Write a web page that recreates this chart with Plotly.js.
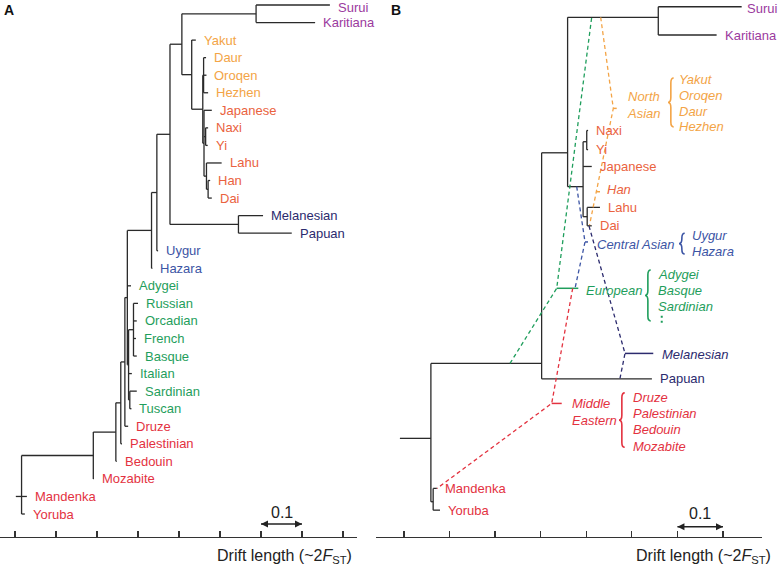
<!DOCTYPE html>
<html><head><meta charset="utf-8">
<script src="https://cdn.plot.ly/plotly-3.0.1.min.js"></script>
<style>html,body{margin:0;padding:0;background:#fff}#chart{width:778px;height:568px}</style>
</head><body><div id="chart"></div>
<script>
// ---------------- Panel A : population tree ----------------
const leavesA = ["Surui","Karitiana","Yakut","Daur","Oroqen","Hezhen","Japanese","Naxi","Yi","Lahu","Han","Dai","Melanesian","Papuan","Uygur","Hazara","Adygei","Russian","Orcadian","French","Basque","Italian","Sardinian","Tuscan","Druze","Palestinian","Bedouin","Mozabite","Mandenka","Yoruba"];
const leafRowA = [0,1,2,3,4,5,6,7,8,9,10,11,12,13,14,15,16,17,18,19,20,21,22,23,24,25,26,27,28,29];
const leafDriftA = [0.768,0.732,0.441,0.466,0.467,0.471,0.480,0.471,0.470,0.504,0.476,0.480,0.605,0.675,0.349,0.335,0.283,0.300,0.297,0.295,0.297,0.285,0.297,0.284,0.276,0.261,0.248,0.192,0.029,0.024];
const leafGroupA = ["amer","amer","nasia","nasia","nasia","nasia","easia","easia","easia","easia","easia","easia","oce","oce","casia","casia","eur","eur","eur","eur","eur","eur","eur","eur","mide","mide","mide","mide","afr","afr"];
const nodesA = ["HD","LHD","NY","M2","M1","N","O","P","R","Q","S","T","U","E1","E2","E","V","W","Z","Y","X","root"];
const nodeDriftA = [0.471,0.467,0.465,0.461,0.460,0.458,0.431,0.588,0.407,0.545,0.378,0.346,0.333,0.289,0.280,0.277,0.274,0.268,0.258,0.246,0.191,0.016];
const nodeChildrenA = [["Han","Dai"],["Lahu","HD"],["Naxi","Yi"],["Japanese","NY","LHD"],["Daur","Oroqen","Hezhen"],["M1","M2"],["Yakut","N"],["Surui","Karitiana"],["P","O"],["Melanesian","Papuan"],["R","Q"],["S","Uygur"],["T","Hazara"],["Russian","Orcadian","French","Basque"],["Sardinian","Tuscan"],["E1","Italian","E2"],["U","Adygei","E"],["V","Druze"],["W","Palestinian"],["Z","Bedouin"],["Y","Mozabite"],["X","Mandenka","Yoruba"]];
const rootStemA = [0.002, 0.016];
const rootStemRowA = 28;

// ---------------- Panel B : tree with admixture ----------------
const leavesB = ["Surui","Karitiana","Naxi","Yi","Japanese","Lahu","Dai","Papuan","Mandenka","Yoruba"];
const leafRowB = [0.10,1.71,7.15,8.24,9.20,11.53,12.58,21.30,27.54,28.78];
const leafDriftB = [0.741,0.686,0.404,0.404,0.412,0.430,0.412,0.544,0.072,0.079];
const leafGroupB = ["amer","amer","easia","easia","easia","easia","easia","oce","afr","afr"];
const nodesB = ["NY","LD","EA","SK","TC","MC","AF","root"];
const nodeDriftB = [0.401,0.402,0.393,0.558,0.359,0.302,0.064,0.059];
const nodeRowB = [7.79,12.06,10.35,0.70,8.42,20.42,28.30,24.69];
const nodeChildrenB = [["Naxi","Yi"],["Lahu","Dai"],["NY","Japanese","LD"],["Surui","Karitiana"],["SK","EA"],["TC","Papuan"],["Mandenka","Yoruba"],["MC","AF"]];
const rootStemB = [-0.009, 0.059];

// admixed groups: dashed edges (source -> node -> second source)
const mixGroups = ["nasia","casia","eur","mide","oce"];
const mixDrift = [[0.4316,0.4593,0.4071],[0.3790,0.3972,0.3753],[0.2326,0.3351,0.4119],[0.3702,0.3241,0.0724],[0.406,0.485,0.474]];
const mixRow = [[0.70,5.89,12.54],[10.35,13.50,16.14],[20.42,16.14,0.70],[16.14,22.70,27.54],[12.59,19.85,21.27]];
const mixTipDrift = [0.4668,0.4038,0.3825,0.3461,0.547];
const mixLabels = ["North<br>Asian","Central Asian","European","Middle<br>Eastern","Melanesian"];
const mixLabelDrift = [0.485,0.4191,0.395,0.3643,0.5618];
const mixLabelRow = [5.68,13.62,16.24,23.20,19.89];
// Han (admixed East Asian)
const hanDrift = [0.4226,0.4301];
const hanRow = 10.64;
const hanLabelDrift = 0.441, hanLabelRow = 10.50;

// braces with member lists
const braceGroups = ["nasia","casia","eur","mide"];
const braceTipDrift = [0.5793,0.6035,0.5289,0.4718];
const braceRows = [[4.16,6.95],[13.0,14.19],[15.1,18.0],[22.1,25.2]];
const braceMembers = [["Yakut","Oroqen","Daur","Hezhen"],["Uygur","Hazara"],["Adygei","Basque","Sardinian"],["Druze","Palestinian","Bedouin","Mozabite"]];
const braceMemberRows = [[4.22,5.17,6.04,6.93],[13.15,14.06],[15.33,16.28,17.19],[22.35,23.27,24.18,25.13]];
const braceLabelDrift = [0.5985,0.6276,0.553,0.4975];
const euroDotsDrift = 0.5656, euroDotsRows = [17.7,18.25];

const tickValsA = [0,0.1,0.2,0.3,0.4,0.5,0.6,0.7,0.8];
const tickValsB = [0,0.1,0.2,0.3,0.4,0.5,0.6,0.7];
const scaleBar = [0.6,0.7];

const groupColor = {amer:'#9b3a9e', nasia:'#f3a446', easia:'#ea6240', oce:'#2c2b6e', casia:'#3c55a5', eur:'#1f9e5c', mide:'#e3323f', afr:'#e3323f'};
const FONT = 'Liberation Sans, Arial, Helvetica, sans-serif';
const LINE = '#2a2a2a';

function treeSegments(leaves, leafX, leafY, nodes, nodeX, kids, nodeY) {
  const pos = {};
  leaves.forEach((n,i)=>pos[n]={x:leafX[i], y:leafY[i]});
  nodes.forEach((n,i)=>{
    const ys = kids[i].map(c=>pos[c].y);
    const y = (nodeY && nodeY[i]!=null) ? nodeY[i] : (Math.min(...ys)+Math.max(...ys))/2;
    pos[n] = {x:nodeX[i], y:y};
  });
  const xs=[], ys=[];
  nodes.forEach((n,i)=>{
    const p = pos[n];
    const kys = kids[i].map(c=>pos[c].y);
    xs.push(p.x,p.x,null); ys.push(Math.min(...kys,p.y),Math.max(...kys,p.y),null);
    kids[i].forEach(c=>{ xs.push(p.x,pos[c].x,null); ys.push(pos[c].y,pos[c].y,null); });
  });
  return {xs, ys, pos};
}

const tA = treeSegments(leavesA, leafDriftA, leafRowA, nodesA, nodeDriftA, nodeChildrenA, null);
const tB = treeSegments(leavesB, leafDriftB, leafRowB, nodesB, nodeDriftB, nodeChildrenB, nodeRowB);

const traces = [];
traces.push({x:tA.xs.concat([rootStemA[0],rootStemA[1]]), y:tA.ys.concat([rootStemRowA,rootStemRowA]), xaxis:'x', yaxis:'y', mode:'lines', line:{color:LINE,width:1.3}, hoverinfo:'skip', showlegend:false});
traces.push({x:tB.xs.concat([rootStemB[0],rootStemB[1]]), y:tB.ys.concat([tB.pos.root.y,tB.pos.root.y]), xaxis:'x2', yaxis:'y2', mode:'lines', line:{color:LINE,width:1.3}, hoverinfo:'skip', showlegend:false});

mixGroups.forEach((g,i)=>{
  traces.push({x:mixDrift[i], y:mixRow[i], xaxis:'x2', yaxis:'y2', mode:'lines', line:{color:groupColor[g], width:1.3, dash:'4px,3px'}, hoverinfo:'skip', showlegend:false});
  traces.push({x:[mixDrift[i][1], mixTipDrift[i]], y:[mixRow[i][1], mixRow[i][1]], xaxis:'x2', yaxis:'y2', mode:'lines', line:{color:groupColor[g], width:1.5}, hoverinfo:'skip', showlegend:false});
});
traces.push({x:hanDrift, y:[hanRow,hanRow], xaxis:'x2', yaxis:'y2', mode:'lines', line:{color:groupColor.nasia,width:1.5}, hoverinfo:'skip', showlegend:false});
traces.push({x:[euroDotsDrift,euroDotsDrift], y:euroDotsRows, xaxis:'x2', yaxis:'y2', mode:'lines', line:{color:groupColor.eur,width:2,dash:'2px,3px'}, hoverinfo:'skip', showlegend:false});

// scale bars (double-headed arrows)
[['x','y',29.57],['x2','y2',29.73]].forEach(([xr,yr,row])=>{
  traces.push({x:scaleBar, y:[row,row], xaxis:xr, yaxis:yr, mode:'lines+markers', line:{color:'#222',width:1.4}, marker:{symbol:['arrow-left','arrow-right'], size:7, color:'#222', line:{width:0}}, hoverinfo:'skip', showlegend:false, cliponaxis:false});
});

const ann = [];
function lab(text, x, y, xr, yr, color, opts) {
  ann.push(Object.assign({text:text, x:x, y:y, xref:xr, yref:yr, showarrow:false, xanchor:'left', yanchor:'middle', align:'left', font:{family:FONT,size:13,color:color}}, opts||{}));
}
leavesA.forEach((n,i)=>lab(n, leafDriftA[i], leafRowA[i], 'x','y', groupColor[leafGroupA[i]], {xshift:6, yshift: leafRowA[i]<0.5 ? -2 : 0}));
leavesB.forEach((n,i)=>lab(n, leafDriftB[i], leafRowB[i], 'x2','y2', groupColor[leafGroupB[i]], {xshift: leafRowB[i]<0.5 ? 3 : 6, yshift: leafRowB[i]<0.5 ? -2 : 0}));
mixGroups.forEach((g,i)=>lab('<i>'+mixLabels[i]+'</i>', mixLabelDrift[i], mixLabelRow[i], 'x2','y2', groupColor[g]));
lab('<i>Han</i>', hanLabelDrift, hanLabelRow, 'x2','y2', groupColor.easia);
braceGroups.forEach((g,i)=>{
  braceMembers[i].forEach((m,j)=>lab('<i>'+m+'</i>', braceLabelDrift[i], braceMemberRows[i][j], 'x2','y2', groupColor[g]));
});

// panel letters
ann.push({text:'<b>A</b>', x:2/778, y:1, xref:'paper', yref:'paper', xanchor:'left', yanchor:'top', showarrow:false, font:{family:FONT,size:14,color:'#111'}});
ann.push({text:'<b>B</b>', x:389/778, y:1, xref:'paper', yref:'paper', xanchor:'left', yanchor:'top', showarrow:false, font:{family:FONT,size:14,color:'#111'}});
// axis titles and scale-bar labels
[0.3658,0.9045].forEach(px=>{
  ann.push({text:'Drift length (~2<i>F</i><sub>ST</sub>)', x:px, y:0.021, xref:'paper', yref:'paper', xanchor:'center', yanchor:'middle', showarrow:false, font:{family:FONT,size:16,color:'#222'}});
});
[['x','y',28.9],['x2','y2',28.95]].forEach(([xr,yr,trow])=>{
  ann.push({text:'0.1', x:(scaleBar[0]+scaleBar[1])/2, y:trow, xref:xr, yref:yr, xanchor:'center', yanchor:'middle', showarrow:false, font:{family:FONT,size:16,color:'#222'}});
});

function bracePath(xTip, y0, y1, w, h) {
  const ym=(y0+y1)/2, xm=xTip+w*0.5, xe=xTip+w;
  return `M${xe},${y0} Q${xm},${y0} ${xm},${y0+h} L${xm},${ym-h} Q${xm},${ym} ${xTip},${ym} Q${xm},${ym} ${xm},${ym+h} L${xm},${y1-h} Q${xm},${y1} ${xe},${y1}`;
}
const shapes = braceGroups.map((g,i)=>({type:'path', xref:'x2', yref:'y2', path:bracePath(braceTipDrift[i], braceRows[i][0], braceRows[i][1], 0.0125, 0.28), line:{color:groupColor[g], width:1.6}}));

const axBase = {showline:true, linecolor:'#333', linewidth:1.3, ticks:'inside', ticklen:6, tickwidth:1.3, tickcolor:'#333', showticklabels:false, showgrid:false, zeroline:false, fixedrange:true};
const yBase = {visible:false, showgrid:false, zeroline:false, range:[30.31,-0.285], domain:[31/568,1], fixedrange:true};

const layout = {
  width:778, height:568, margin:{l:0,r:0,t:0,b:0}, paper_bgcolor:'#fff', plot_bgcolor:'rgba(0,0,0,0)', showlegend:false,
  xaxis: Object.assign({}, axBase, {domain:[0,357/778], range:[-15/410, 342/410], tickvals:tickValsA, anchor:'y'}),
  yaxis: Object.assign({}, yBase, {anchor:'x'}),
  xaxis2: Object.assign({}, axBase, {domain:[376/778,762/778], range:[-28/455.7, 358/455.7], tickvals:tickValsB, anchor:'y2'}),
  yaxis2: Object.assign({}, yBase, {anchor:'x2'}),
  annotations: ann, shapes: shapes
};
Plotly.newPlot('chart', traces, layout, {displayModeBar:false, staticPlot:true});
</script></body></html>
